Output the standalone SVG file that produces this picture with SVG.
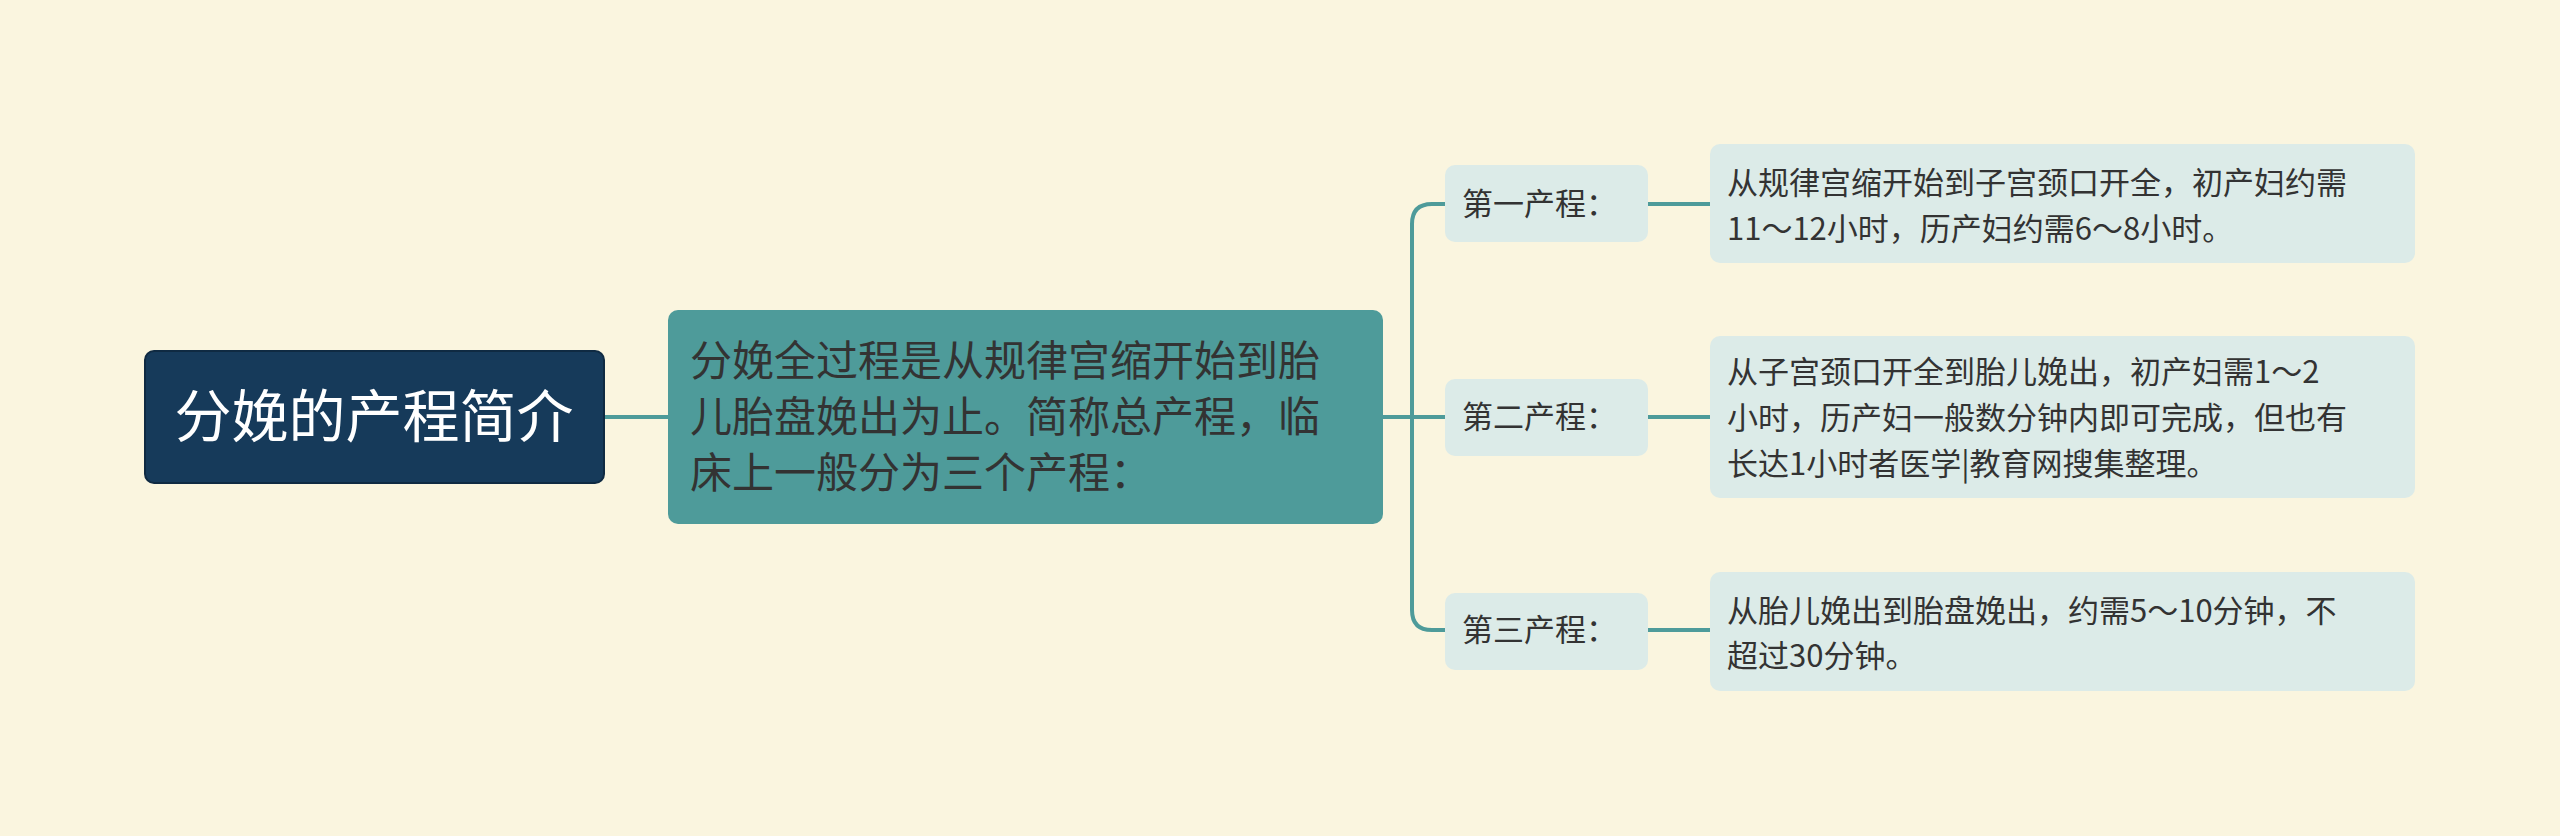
<svg xmlns="http://www.w3.org/2000/svg" width="2560" height="836" viewBox="0 0 2560 836">
<style>
text{font-family:"Noto Sans CJK SC","Noto Sans",sans-serif;fill:#333}
.c{fill:none;stroke:#4e9b9a;stroke-width:4}
.s{fill:#dcebe8}
.t{font-size:31px}
</style>
<rect width="2560" height="836" fill="#faf5df"/>
<g id="connectors">
<path class="c" d="M604 417H668"/>
<path class="c" d="M1383 417H1412M1445 204H1432Q1412 204 1412 224V610Q1412 630 1432 630H1445M1412 417H1445"/>
<path class="c" d="M1648 204H1710M1648 417H1710M1648 630H1710"/>
</g>
<g id="root"><rect x="145" y="351" width="459" height="132" rx="9" fill="#163a5a" stroke="#0f2a42" stroke-width="2"/><text x="374" y="437" font-size="57" text-anchor="middle" style="fill:#fff">分娩的产程简介</text></g>
<g id="main"><rect x="668" y="310" width="715" height="214" rx="10" fill="#4e9b9a"/>
<text font-size="42"><tspan x="690" y="376">分娩全过程是从规律宫缩开始到胎</tspan><tspan x="690" y="432">儿胎盘娩出为止。简称总产程，临</tspan><tspan x="690" y="488">床上一般分为三个产程：</tspan></text></g>
<g id="s1"><rect class="s" x="1445" y="165" width="203" height="77" rx="10"/><text class="t" x="1462" y="215">第一产程：</text></g>
<g id="s2"><rect class="s" x="1445" y="379" width="203" height="77" rx="10"/><text class="t" x="1462" y="428">第二产程：</text></g>
<g id="s3"><rect class="s" x="1445" y="593" width="203" height="77" rx="10"/><text class="t" x="1462" y="641">第三产程：</text></g>
<g id="l1"><rect class="s" x="1710" y="144" width="705" height="119" rx="10"/><text class="t"><tspan x="1727" y="194">从规律宫缩开始到子宫颈口开全，初产妇约需</tspan><tspan x="1727" y="240">11～12小时，历产妇约需6～8小时。</tspan></text></g>
<g id="l2"><rect class="s" x="1710" y="336" width="705" height="162" rx="10"/><text class="t"><tspan x="1727" y="383">从子宫颈口开全到胎儿娩出，初产妇需1～2</tspan><tspan x="1727" y="429">小时，历产妇一般数分钟内即可完成，但也有</tspan><tspan x="1727" y="475">长达1小时者医学|教育网搜集整理。</tspan></text></g>
<g id="l3"><rect class="s" x="1710" y="572" width="705" height="119" rx="10"/><text class="t"><tspan x="1727" y="622">从胎儿娩出到胎盘娩出，约需5～10分钟，不</tspan><tspan x="1727" y="667">超过30分钟。</tspan></text></g>
</svg>
